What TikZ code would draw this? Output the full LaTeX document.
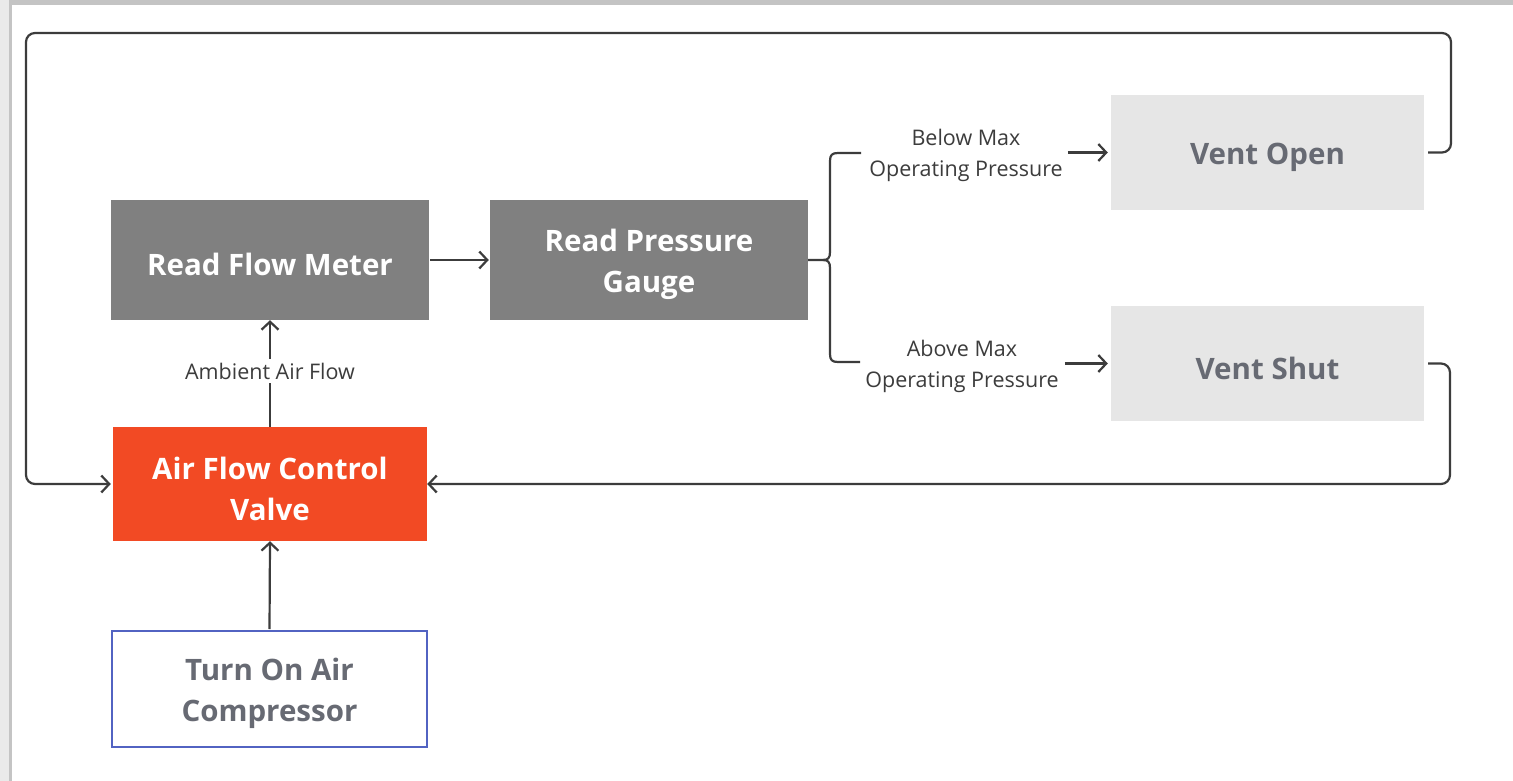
\documentclass[tikz,border=0pt]{standalone}
\usepackage{fontspec}
\setmainfont{Open Sans}
\usetikzlibrary{arrows.meta}
\definecolor{boxdark}{HTML}{808080}
\definecolor{boxlight}{HTML}{E6E6E6}
\definecolor{valvecol}{HTML}{F24A24}
\definecolor{bluecol}{HTML}{5263C2}
\definecolor{greytext}{HTML}{676A73}
\definecolor{linecol}{HTML}{3C3C3C}
\definecolor{framegray}{HTML}{C4C4C4}
\definecolor{stripgray}{HTML}{EAEAEA}
\tikzset{
  box/.style={rectangle, inner sep=0pt},
  boxtext/.style={inner sep=0pt, align=center, yshift=-4.5pt,
    font=\fontsize{29.5}{41}\selectfont\bfseries},
  darkbox/.style={box, fill=boxdark, minimum width=318pt, minimum height=120pt},
  lightbox/.style={box, fill=boxlight, minimum width=313pt, minimum height=115pt},
  lbl/.style={inner sep=0pt, align=center, text=linecol,
    font=\fontsize{21.5}{31}\selectfont},
  conn/.style={draw=linecol, line width=2.2pt,
    -{Straight Barb[length=8pt,width=17pt,line width=2.2pt]}},
  plainconn/.style={draw=linecol, line width=2.2pt},
}
\begin{document}
\begin{tikzpicture}[x=1pt,y=-1pt]
\useasboundingbox (0,0) rectangle (1513,781);
% page frame
\fill[white] (0,0) rectangle (1513,781);
\fill[stripgray] (0,0) rectangle (9,781);
\fill[framegray] (9,0) rectangle (12,781);
\fill[framegray] (9,0) rectangle (1513,5);

% nodes
\node[darkbox, label={[boxtext, text=white]center:Read Flow Meter}] (rfm) at (270,260) {};
\node[darkbox, label={[boxtext, text=white]center:Read Pressure\\Gauge}] (rpg) at (649,260) {};
\node[lightbox, label={[boxtext, text=greytext]center:Vent Open}] (vopen) at (1267.5,152.5) {};
\node[lightbox, label={[boxtext, text=greytext]center:Vent Shut}] (vshut) at (1267.5,363.5) {};
\node[box, fill=valvecol, minimum width=314pt, minimum height=114pt,
  label={[boxtext, text=white]center:Air Flow Control\\Valve}] (valve) at (270,484) {};
\node[box, draw=bluecol, line width=2pt, fill=white, minimum width=315pt, minimum height=116pt,
  label={[boxtext, text=greytext]center:Turn On Air\\Compressor}] (comp) at (269.5,689) {};

\node[lbl] (lbelow) at (966,155) {Below Max\\Operating Pressure};
\node[lbl] (labove) at (962,366) {Above Max\\Operating Pressure};
\node[lbl, fill=white, inner ysep=4pt] (lamb) at (270,371) {Ambient Air Flow};

\coordinate (tip) at (823,260);
\coordinate (btop) at (830,153);
\coordinate (bbot) at (830,362);

% connectors
\draw[conn, shorten <=1pt] (comp.north) -- (valve.south);
\draw[plainconn] (valve.north) -- (lamb.south);
\draw[conn] (lamb.north) -- (rfm.south);
\draw[conn, shorten <=1pt, shorten >=1pt] (rfm.east) -- (rpg.west);

% brace
\draw[plainconn, line join=round] (rpg.east) -- (tip)
  .. controls (828,260) and (830,258) .. (830,252) -- (830,161)
  .. controls (830,155) and (832,153) .. (838,153) -- ([xshift=-8pt]lbelow.west |- btop);
\draw[plainconn, line join=round] (tip)
  .. controls (828,260) and (830,262) .. (830,268) -- (830,354)
  .. controls (830,360) and (832,362) .. (838,362) -- ([xshift=-5pt]labove.west |- bbot);
\draw[conn, shorten <=5pt, shorten >=3pt] (lbelow.east |- vopen.west) -- (vopen.west);
\draw[conn, shorten <=6pt, shorten >=3pt] (labove.east |- vshut.west) -- (vshut.west);

% feedback loops
\draw[conn, rounded corners=9pt, shorten <=4pt, shorten >=2pt] (vopen.east) -- (1451,152.5) -- (1451,33) -- (26,33) |- (valve.west);
\draw[conn, rounded corners=9pt, shorten <=4pt] (vshut.east) -- (1450,363.5) |- (valve.east);
\end{tikzpicture}
\end{document}
